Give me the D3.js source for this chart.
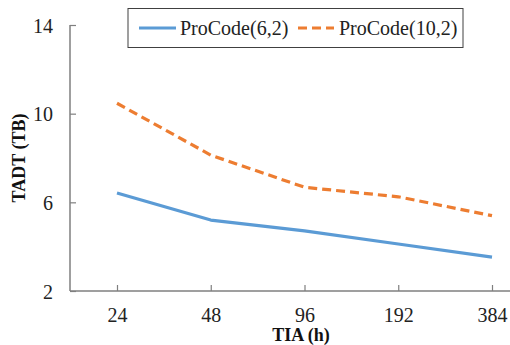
<!DOCTYPE html>
<html><head><meta charset="utf-8">
<script src="https://cdn.jsdelivr.net/npm/d3@7"></script>
<style>body{margin:0;background:#fff}svg{display:block}</style>
</head><body>
<svg id="c" width="510" height="345" font-family="Liberation Serif"></svg>
<script>
const categories = ["24","48","96","192","384"];
const seriesNames = ["ProCode(6,2)","ProCode(10,2)"];
const pc62 = [6.42, 5.2, 4.71, 4.12, 3.53];
const pc102 = [10.47, 8.13, 6.68, 6.25, 5.40];
const yTicks = [2, 6, 10, 14];

const FONT = "Liberation Serif";
const svg = d3.select("#c");
const x = d3.scalePoint().domain(categories).range([117, 492]);
const y = d3.scaleLinear().domain([2, 14]).range([291, 25]);
const axisColor = "#7f7f7f";

// axes
const ya = svg.append("g").attr("transform","translate(70,0)")
  .call(d3.axisRight(y).tickValues(yTicks).tickSize(6).tickFormat(d3.format("d")));
ya.attr("font-family",FONT).attr("font-size",20);
ya.select(".domain").attr("d","M0,25V291").attr("stroke",axisColor).attr("stroke-width",1.5);
ya.selectAll(".tick line").attr("stroke",axisColor).attr("stroke-width",1.2);
ya.selectAll(".tick text").attr("x",-17).attr("text-anchor","end").attr("dy","0.35em")
  .attr("font-family",FONT).attr("font-size",20).attr("fill","#222");

const xa = svg.append("g").attr("transform","translate(0,291)")
  .call(d3.axisTop(x).tickSize(6));
xa.attr("font-family",FONT).attr("font-size",20);
xa.select(".domain").attr("d","M70,0H510").attr("stroke",axisColor).attr("stroke-width",1.5);
xa.selectAll(".tick line").attr("stroke",axisColor).attr("stroke-width",1.2);
xa.selectAll(".tick text").attr("y",31).attr("dy",0)
  .attr("font-family",FONT).attr("font-size",20).attr("fill","#222");

// lines
const line = d3.line().x((d,i)=>x(categories[i])).y(d=>y(d));
svg.append("path").datum(pc62).attr("d",line).attr("fill","none")
  .attr("stroke","#5b9bd5").attr("stroke-width",3.2).attr("stroke-linejoin","round");
svg.append("path").datum(pc102).attr("d",line).attr("fill","none")
  .attr("stroke","#ed7d31").attr("stroke-width",3.2).attr("stroke-dasharray","9,5");

// axis titles
svg.append("text").attr("transform","translate(25,158) rotate(-90)").attr("text-anchor","middle")
  .attr("font-family",FONT).attr("font-weight","bold").attr("font-size",18).attr("fill","#111")
  .text("TADT (TB)");
svg.append("text").attr("x",301).attr("y",341).attr("text-anchor","middle")
  .attr("font-family",FONT).attr("font-weight","bold").attr("font-size",18).attr("fill","#111")
  .text("TIA (h)");

// legend
const lg = svg.append("g");
lg.append("rect").attr("x",128).attr("y",8.5).attr("width",335).attr("height",39)
  .attr("fill","#fff").attr("stroke","#404040").attr("stroke-width",1);
const items = [
  {name: seriesNames[0], color:"#5b9bd5", dash:null, x1:139, x2:176, tx:180},
  {name: seriesNames[1], color:"#ed7d31", dash:"9,5", x1:298, x2:334, tx:339}
];
items.forEach(it=>{
  lg.append("line").attr("x1",it.x1).attr("x2",it.x2).attr("y1",28).attr("y2",28)
    .attr("stroke",it.color).attr("stroke-width",3.2).attr("stroke-dasharray",it.dash);
  lg.append("text").attr("x",it.tx).attr("y",35).attr("font-family",FONT)
    .attr("font-size",20).attr("fill","#222").text(it.name);
});
</script>
</body></html>
